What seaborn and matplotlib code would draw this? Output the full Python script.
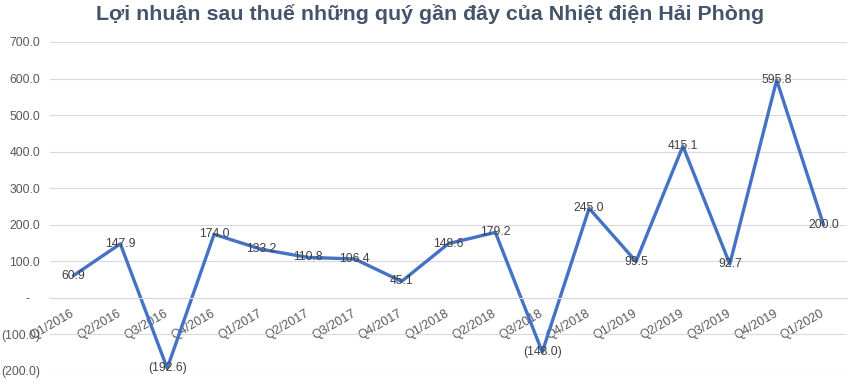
import matplotlib
matplotlib.use("Agg")
import matplotlib.pyplot as plt
import seaborn as sns
import pandas as pd
from matplotlib.ticker import FuncFormatter, FixedLocator

quarters = ["Q1/2016", "Q2/2016", "Q3/2016", "Q4/2016", "Q1/2017", "Q2/2017", "Q3/2017",
            "Q4/2017", "Q1/2018", "Q2/2018", "Q3/2018", "Q4/2018", "Q1/2019", "Q2/2019",
            "Q3/2019", "Q4/2019", "Q1/2020"]
profit = [60.9, 147.9, -192.6, 174.0, 133.2, 110.8, 106.4, 45.1, 148.6, 179.2, -148.0,
          245.0, 99.5, 415.1, 92.7, 595.8, 200.0]
title = "Lợi nhuận sau thuế những quý gần đây của Nhiệt điện Hải Phòng"

df = pd.DataFrame({"quarter": quarters, "profit": profit})

sns.set_theme(style="white")
plt.rcParams["font.family"] = ["Liberation Sans", "DejaVu Sans"]

def fmt(v):
    if abs(v) < 1e-9:
        return "-   "
    if v < 0:
        return f"({abs(v):.1f})"
    return f"{v:.1f}"

fig = plt.figure(figsize=(8.48, 3.92), dpi=100)
ax = fig.add_axes([50 / 848, 1 - 371 / 392, 797 / 848, (371 - 42) / 392])

sns.lineplot(data=df, x="quarter", y="profit", sort=False, color="#4472C4",
             linewidth=2.4, ax=ax, legend=False)

ax.set_xlim(-0.5, len(quarters) - 0.5)
ax.set_ylim(-200, 700)
ax.set_yticks(range(-200, 701, 100))
ax.yaxis.set_major_formatter(FuncFormatter(lambda v, p: fmt(v)))
ax.grid(axis="y", color="#D9D9D9", linewidth=0.8)
ax.set_axisbelow(True)

for s in ["top", "right", "left"]:
    ax.spines[s].set_visible(False)
ax.spines["bottom"].set_position(("data", 0))
ax.spines["bottom"].set_color("#D9D9D9")
ax.spines["bottom"].set_linewidth(0.8)

ax.set_xticks(range(len(quarters)))
ax.set_xticklabels(quarters, rotation=30, ha="right", va="center", rotation_mode="anchor",
                   fontsize=9, color="#595959")
ax.tick_params(axis="x", which="major", length=0, pad=11)
ax.xaxis.set_minor_locator(FixedLocator([i - 0.5 for i in range(len(quarters) + 1)]))
ax.tick_params(axis="x", which="minor", length=4, color="#D9D9D9", width=0.8)
ax.tick_params(axis="y", length=0, labelsize=8.8, labelcolor="#595959", pad=7)
ax.set_xlabel("")
ax.set_ylabel("")

for i, v in enumerate(profit):
    ax.text(i, v, fmt(v), ha="center", va="center", fontsize=8.8, color="#404040")

fig.text(0.507, 0.965, title, ha="center", va="center", fontsize=15.4,
         fontweight="bold", color="#44546A")

fig.savefig("out.png", dpi=100)
